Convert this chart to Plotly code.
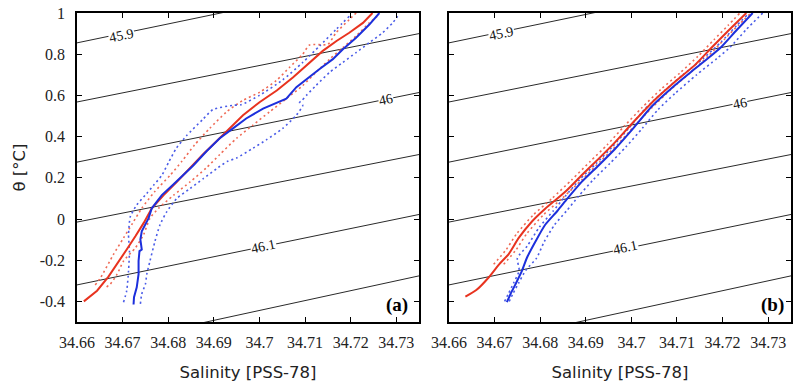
import plotly.graph_objects as go

# ---------------- axis ticks ----------------
S_TICKS = [34.66, 34.67, 34.68, 34.69, 34.70, 34.71, 34.72, 34.73]
S_TICK_TEXT = ["34.66", "34.67", "34.68", "34.69", "34.7", "34.71", "34.72", "34.73"]
T_TICKS = [-0.4, -0.2, 0.0, 0.2, 0.4, 0.6, 0.8, 1.0]
T_TICK_TEXT = ["-0.4", "-0.2", "0", "0.2", "0.4", "0.6", "0.8", "1"]
S_RANGE = [34.66, 34.735]
T_RANGE = [-0.5, 1.0]

# ---------------- isopycnals (sigma-4), theta at S = 34.66 and S = 34.735 ----------------
ISO_S = [34.66, 34.735]
ISO_THETA = [
    [0.855, 1.200],   # 45.9
    [0.568, 0.900],
    [0.276, 0.614],   # 46
    [-0.015, 0.313],
    [-0.320, 0.022],  # 46.1
    [-0.636, -0.276],
]
ISO_LABELS = ["45.9", "46", "46.1"]
ISO_LABEL_POS_A = [(34.6698, 0.893), (34.7278, 0.578), (34.7008, -0.135)]
ISO_LABEL_POS_B = [(34.6716, 0.900), (34.7238, 0.560), (34.6987, -0.140)]

# ---------------- panel (a) ----------------
a_red_S = [34.6615, 34.6644, 34.6669, 34.6691, 34.6709, 34.6728, 34.6746, 34.6764, 34.6790, 34.6819,
           34.6845, 34.6876, 34.6906, 34.6935, 34.6964, 34.7001, 34.7038, 34.7074, 34.7103, 34.7139,
           34.7169, 34.7197, 34.7227, 34.7248]
a_red_T = [-0.400, -0.348, -0.280, -0.204, -0.148, -0.084, -0.020, 0.052, 0.116, 0.180,
           0.240, 0.313, 0.377, 0.440, 0.504, 0.568, 0.624, 0.688, 0.744, 0.816,
           0.864, 0.904, 0.952, 1.000]

a_blue_S = [34.6724, 34.6725, 34.6731, 34.6733, 34.6735, 34.6735, 34.6737, 34.6742, 34.6739, 34.6742,
            34.6753, 34.6757, 34.6764, 34.6786, 34.6810, 34.6833, 34.6855, 34.6884, 34.6913, 34.6942,
            34.6971, 34.7008, 34.7033, 34.7059, 34.7081, 34.7103, 34.7132, 34.7161, 34.7183, 34.7212,
            34.7241, 34.7263]
a_blue_T = [-0.415, -0.380, -0.332, -0.284, -0.268, -0.204, -0.156, -0.148, -0.100, -0.060,
            -0.012, 0.004, 0.052, 0.116, 0.165, 0.212, 0.260, 0.329, 0.392, 0.440,
            0.488, 0.536, 0.560, 0.584, 0.640, 0.680, 0.728, 0.776, 0.824, 0.880,
            0.944, 1.000]

a_red_lo_S = [34.6640, 34.6652, 34.6680, 34.6702, 34.6722, 34.6742, 34.6770, 34.6804, 34.6830, 34.6858,
              34.6891, 34.6928, 34.6964, 34.7001, 34.7037, 34.7066, 34.7095, 34.7110, 34.7150, 34.7168,
              34.7197, 34.7212]
a_red_lo_T = [-0.320, -0.284, -0.172, -0.092, -0.020, 0.052, 0.132, 0.212, 0.280, 0.360,
              0.440, 0.520, 0.576, 0.616, 0.672, 0.736, 0.800, 0.845, 0.848, 0.904,
              0.968, 1.000]

a_red_hi_S = [34.6665, 34.6673, 34.6688, 34.6702, 34.6728, 34.6746, 34.6760, 34.6779, 34.6812, 34.6848,
              34.6884, 34.6913, 34.6950, 34.6986, 34.7022, 34.7059, 34.7095, 34.7124, 34.7154, 34.7183,
              34.7212, 34.7241, 34.7263]
a_red_hi_T = [-0.330, -0.316, -0.268, -0.204, -0.140, -0.076, 0.004, 0.052, 0.116, 0.180,
              0.249, 0.313, 0.392, 0.456, 0.520, 0.584, 0.648, 0.712, 0.776, 0.832,
              0.888, 0.952, 0.992]

a_blue_lo_S = [34.6702, 34.6709, 34.6713, 34.6715, 34.6713, 34.6717, 34.6731, 34.6753, 34.6768, 34.6786,
               34.6801, 34.6818, 34.6840, 34.6876, 34.6898, 34.6942, 34.6960, 34.7000, 34.7051, 34.7095,
               34.7132, 34.7168, 34.7197]
a_blue_lo_T = [-0.404, -0.348, -0.252, -0.156, -0.076, 0.012, 0.068, 0.124, 0.164, 0.212,
               0.276, 0.344, 0.404, 0.484, 0.531, 0.552, 0.555, 0.600, 0.675, 0.760,
               0.840, 0.920, 0.984]

a_blue_hi_S = [34.6739, 34.6742, 34.6750, 34.6753, 34.6760, 34.6771, 34.6782, 34.6797, 34.6819, 34.6848,
               34.6877, 34.6906, 34.6930, 34.6950, 34.6986, 34.7015, 34.7051, 34.7081, 34.7095, 34.7088,
               34.7093, 34.7103, 34.7124, 34.7154, 34.7183, 34.7212, 34.7241, 34.7270, 34.7292, 34.7303]
a_blue_hi_T = [-0.412, -0.364, -0.316, -0.268, -0.204, -0.108, -0.028, 0.036, 0.100, 0.148,
               0.196, 0.244, 0.280, 0.296, 0.344, 0.384, 0.440, 0.504, 0.552, 0.565,
               0.575, 0.600, 0.648, 0.712, 0.760, 0.808, 0.856, 0.904, 0.952, 0.984]

# ---------------- panel (b) ----------------
b_red_S = [34.6636, 34.6660, 34.6687, 34.6710, 34.6731, 34.6753, 34.6782, 34.6811, 34.6855, 34.6891,
           34.6928, 34.6964, 34.7000, 34.7052, 34.7095, 34.7139, 34.7175, 34.7213, 34.7252]
b_red_T = [-0.377, -0.345, -0.284, -0.220, -0.170, -0.092, -0.012, 0.050, 0.132, 0.212,
           0.292, 0.372, 0.460, 0.580, 0.665, 0.747, 0.830, 0.915, 1.000]

b_blue_S = [34.6727, 34.6735, 34.6746, 34.6760, 34.6771, 34.6790, 34.6811, 34.6838, 34.6860, 34.6891,
            34.6928, 34.6964, 34.7004, 34.7044, 34.7088, 34.7132, 34.7168, 34.7197, 34.7230, 34.7266]
b_blue_T = [-0.404, -0.364, -0.316, -0.252, -0.188, -0.108, -0.028, 0.040, 0.100, 0.180,
            0.260, 0.340, 0.440, 0.545, 0.635, 0.716, 0.780, 0.835, 0.915, 1.000]

b_red_lo_S = [34.6698, 34.6725, 34.6749, 34.6785, 34.6826, 34.6869, 34.6910, 34.6947, 34.6984, 34.7023,
              34.7065, 34.7107, 34.7146, 34.7181, 34.7212, 34.7238]
b_red_lo_T = [-0.220, -0.150, -0.070, 0.020, 0.100, 0.190, 0.280, 0.360, 0.450, 0.540,
              0.630, 0.710, 0.790, 0.870, 0.940, 1.000]

b_red_hi_S = [34.6720, 34.6747, 34.6771, 34.6807, 34.6848, 34.6891, 34.6932, 34.6969, 34.7006, 34.7045,
              34.7087, 34.7129, 34.7168, 34.7203, 34.7234, 34.7262]
b_red_hi_T = [-0.220, -0.150, -0.070, 0.020, 0.100, 0.190, 0.280, 0.360, 0.450, 0.540,
              0.630, 0.710, 0.790, 0.870, 0.940, 1.000]

b_blue_lo_S = [34.6722, 34.6731, 34.6742, 34.6754, 34.6750, 34.6772, 34.6798, 34.6829, 34.6855, 34.6886,
               34.6923, 34.6958, 34.6994, 34.7028, 34.7071, 34.7113, 34.7158, 34.7197, 34.7231, 34.7254]
b_blue_lo_T = [-0.400, -0.360, -0.310, -0.250, -0.190, -0.130, -0.040, 0.040, 0.110, 0.190,
               0.270, 0.350, 0.440, 0.530, 0.620, 0.700, 0.780, 0.860, 0.940, 0.990]

b_blue_hi_S = [34.6732, 34.6741, 34.6753, 34.6768, 34.6792, 34.6809, 34.6831, 34.6858, 34.6884, 34.6916,
               34.6953, 34.6988, 34.7024, 34.7058, 34.7096, 34.7143, 34.7188, 34.7217, 34.7252, 34.7288]
b_blue_hi_T = [-0.400, -0.360, -0.310, -0.250, -0.190, -0.110, -0.030, 0.040, 0.110, 0.190,
               0.270, 0.350, 0.440, 0.530, 0.610, 0.700, 0.780, 0.835, 0.920, 1.000]

RED = "#e8331f"
BLUE = "#1c2fdc"
RED_DOT = "#ef6a55"
BLUE_DOT = "#4a5ce8"
ISO_COLOR = "#2a2a2a"
SERIF = "Liberation Serif"
SANS = "DejaVu Sans"

fig = go.Figure()

panels = [
    ("x", "y", a_red_S, a_red_T, a_blue_S, a_blue_T, "linear",
     [(a_red_lo_S, a_red_lo_T, RED_DOT), (a_red_hi_S, a_red_hi_T, RED_DOT),
      (a_blue_lo_S, a_blue_lo_T, BLUE_DOT), (a_blue_hi_S, a_blue_hi_T, BLUE_DOT)]),
    ("x2", "y2", b_red_S, b_red_T, b_blue_S, b_blue_T, "spline",
     [(b_red_lo_S, b_red_lo_T, RED_DOT), (b_red_hi_S, b_red_hi_T, RED_DOT),
      (b_blue_lo_S, b_blue_lo_T, BLUE_DOT), (b_blue_hi_S, b_blue_hi_T, BLUE_DOT)]),
]

for xa, ya, rS, rT, bS, bT, shape, dotted in panels:
    for th in ISO_THETA:
        fig.add_trace(go.Scatter(x=ISO_S, y=th, xaxis=xa, yaxis=ya, mode="lines",
                                 line=dict(color=ISO_COLOR, width=1), hoverinfo="skip",
                                 showlegend=False))
    for sx, ty, col in dotted:
        fig.add_trace(go.Scatter(x=sx, y=ty, xaxis=xa, yaxis=ya, mode="lines",
                                 line=dict(color=col, width=1.6, dash="2px,3px",
                                           shape="spline", smoothing=0.6),
                                 showlegend=False))
    fig.add_trace(go.Scatter(x=rS, y=rT, xaxis=xa, yaxis=ya, mode="lines",
                             line=dict(color=RED, width=2, shape=shape, smoothing=0.6),
                             showlegend=False))
    fig.add_trace(go.Scatter(x=bS, y=bT, xaxis=xa, yaxis=ya, mode="lines",
                             line=dict(color=BLUE, width=2, shape=shape, smoothing=0.6),
                             showlegend=False))

# contour labels
for xa, ya, pos in [("x", "y", ISO_LABEL_POS_A), ("x2", "y2", ISO_LABEL_POS_B)]:
    for lab, (sx, ty) in zip(ISO_LABELS, pos):
        fig.add_annotation(x=sx, y=ty, xref=xa, yref=ya, text=lab, showarrow=False,
                           textangle=-12, font=dict(family=SERIF, size=14, color="#111"),
                           bgcolor="white", borderpad=0)

# panel labels
fig.add_annotation(x=0.974, y=0.055, xref="x domain", yref="y domain", text="<b>(a)</b>",
                   showarrow=False, xanchor="right", yanchor="middle",
                   font=dict(family=SERIF, size=19, color="black"))
fig.add_annotation(x=0.985, y=0.055, xref="x2 domain", yref="y2 domain", text="<b>(b)</b>",
                   showarrow=False, xanchor="right", yanchor="middle",
                   font=dict(family=SERIF, size=19, color="black"))

W, H = 798, 385
ML, MR, MT, MB = 77, 5, 9, 63
PW = W - ML - MR

xcommon = dict(range=S_RANGE, tickvals=S_TICKS, ticktext=S_TICK_TEXT, ticks="inside",
               ticklen=5, tickwidth=1.2, tickcolor="black", showline=True, linecolor="black",
               linewidth=1.5, mirror="ticks", showgrid=False, zeroline=False,
               tickfont=dict(family=SERIF, size=16, color="#222"), ticklabelstandoff=5,
               title=dict(text="Salinity [PSS-78]", font=dict(family=SANS, size=16.5, color="#222"),
                          standoff=16))
ycommon = dict(range=T_RANGE, tickvals=T_TICKS, ticktext=T_TICK_TEXT, ticks="inside",
               ticklen=5, tickwidth=1.2, tickcolor="black", showline=True, linecolor="black",
               linewidth=1.5, mirror="ticks", showgrid=False, zeroline=False,
               tickfont=dict(family=SERIF, size=16, color="#222"), ticklabelstandoff=7,
               domain=[0, 1])

fig.update_layout(
    width=W, height=H,
    margin=dict(l=ML, r=MR, t=MT, b=MB),
    plot_bgcolor="white", paper_bgcolor="white",
    xaxis=dict(xcommon, domain=[0, (420 - ML) / PW], anchor="y"),
    xaxis2=dict(xcommon, domain=[(450 - ML) / PW, 1], anchor="y2"),
    yaxis=dict(ycommon, anchor="x",
               title=dict(text="θ [°C]", font=dict(family=SANS, size=16.5, color="#222"),
                          standoff=10)),
    yaxis2=dict(ycommon, anchor="x2", showticklabels=False),
)

fig.write_html("out.html")
